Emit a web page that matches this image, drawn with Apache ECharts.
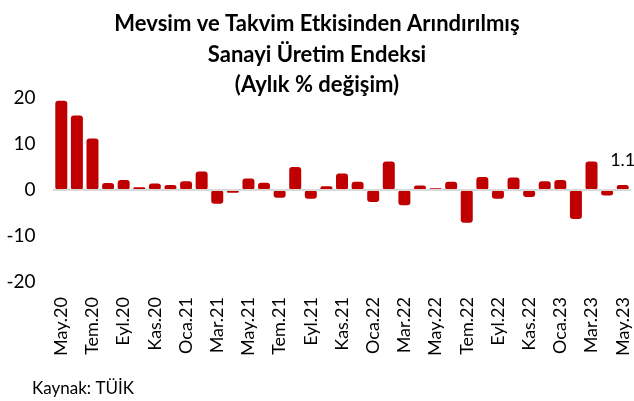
<!DOCTYPE html>
<html>
<head>
<meta charset="utf-8">
<script src="https://cdn.jsdelivr.net/npm/echarts@6/dist/echarts.min.js"></script>
<style>
html,body{margin:0;padding:0;background:#fff;}
#chart{width:634px;height:401px;}
</style>
</head>
<body>
<div id="chart"></div>
<script>
const categories = [
  "May.20","Haz.20","Tem.20","Ağu.20","Eyl.20","Eki.20","Kas.20","Ara.20",
  "Oca.21","Şub.21","Mar.21","Nis.21","May.21","Haz.21","Tem.21","Ağu.21","Eyl.21","Eki.21","Kas.21","Ara.21",
  "Oca.22","Şub.22","Mar.22","Nis.22","May.22","Haz.22","Tem.22","Ağu.22","Eyl.22","Eki.22","Kas.22","Ara.22",
  "Oca.23","Şub.23","Mar.23","Nis.23","May.23"
];
const values = [
  19.4,16.2,11.2,1.5,2.2,0.6,1.4,1.1,
  1.9,4.0,-3.0,-0.6,2.5,1.6,-1.7,5.0,-1.9,0.8,3.6,1.8,
  -2.6,6.2,-3.3,1.0,0.4,1.8,-7.1,2.8,-1.9,2.7,-1.5,1.9,
  2.2,-6.3,6.2,-1.2,1.1
];
const yTicks = [-20,-10,0,10,20];
const titleLines = ["Mevsim ve Takvim Etkisinden Arındırılmış","Sanayi Üretim Endeksi","(Aylık % değişim)"];
const sourceText = "Kaynak: TÜİK";

const FONT = "Lato, 'Noto Sans', sans-serif";
const chart = echarts.init(document.getElementById('chart'), null, {renderer:'canvas'});
const lastIdx = values.length - 1;
chart.setOption({
  animation: false,
  backgroundColor: '#ffffff',
  title: [{
    text: titleLines.join('\n'),
    left: 'center',
    top: 4,
    textStyle: {fontFamily: FONT, fontWeight: 'bold', fontSize: 22, color: '#000', lineHeight: 30.5}
  },{
    text: sourceText,
    left: 27,
    top: 375,
    textStyle: {fontFamily: FONT, fontWeight: 'normal', fontSize: 17, color: '#000'}
  }],
  grid: {left: 53.5, right: 3.5, top: 98, height: 184, containLabel: false},
  xAxis: [{
    type: 'category',
    data: categories,
    position: 'bottom',
    axisLine: {show: false, onZero: false},
    axisTick: {show: false},
    axisLabel: {interval: 1, rotate: 90, margin: 15, fontFamily: FONT, fontSize: 18, color: '#000'}
  },{
    type: 'category',
    data: categories,
    position: 'bottom',
    z: 10,
    axisLine: {show: true, onZero: true, lineStyle: {color: '#d9d9d9', width: 2}},
    axisTick: {show: false},
    axisLabel: {show: false}
  }],
  yAxis: {
    type: 'value',
    min: yTicks[0],
    max: yTicks[yTicks.length-1],
    interval: 10,
    axisLine: {show: false},
    axisTick: {show: false},
    splitLine: {show: false},
    axisLabel: {fontFamily: FONT, fontSize: 19, color: '#000', margin: 18}
  },
  series: [{
    type: 'bar',
    xAxisIndex: 0,
    data: values.map((v, i) => i === lastIdx ? {value: v, label: {show: true}} : v),
    barWidth: 12,
    itemStyle: {color: '#c00000', borderRadius: 3},
    label: {show: false, position: 'top', distance: 16, fontFamily: FONT, fontSize: 18, color: '#000', formatter: p => p.value.toFixed(1)}
  }]
});
</script>
</body>
</html>
